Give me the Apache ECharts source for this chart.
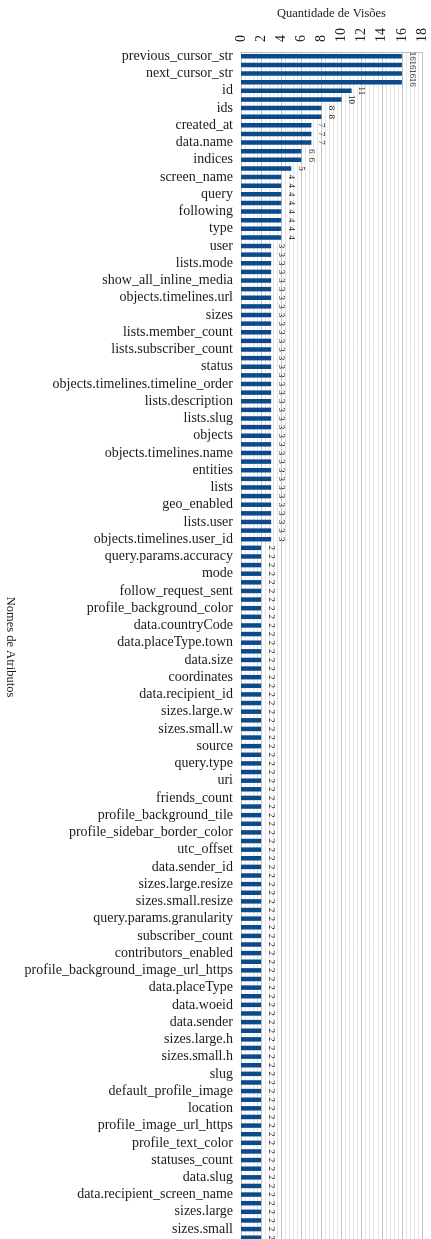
<!DOCTYPE html>
<html>
<head>
<meta charset="utf-8">
<script src="https://cdn.jsdelivr.net/npm/echarts@6/dist/echarts.min.js"></script>
<style>
  html, body { margin: 0; padding: 0; background: #fff; overflow: hidden; }
  #chart { width: 431px; height: 1250px; }
</style>
</head>
<body>
<div id="chart"></div>
<script>
// Attribute names shown on the axis (every other bar carries a name)
const attributeNames = [
  'previous_cursor_str', 'next_cursor_str', 'id', 'ids', 'created_at', 'data.name',
  'indices', 'screen_name', 'query', 'following', 'type', 'user', 'lists.mode',
  'show_all_inline_media', 'objects.timelines.url', 'sizes', 'lists.member_count',
  'lists.subscriber_count', 'status', 'objects.timelines.timeline_order',
  'lists.description', 'lists.slug', 'objects', 'objects.timelines.name', 'entities',
  'lists', 'geo_enabled', 'lists.user', 'objects.timelines.user_id',
  'query.params.accuracy', 'mode', 'follow_request_sent', 'profile_background_color',
  'data.countryCode', 'data.placeType.town', 'data.size', 'coordinates',
  'data.recipient_id', 'sizes.large.w', 'sizes.small.w', 'source', 'query.type', 'uri',
  'friends_count', 'profile_background_tile', 'profile_sidebar_border_color',
  'utc_offset', 'data.sender_id', 'sizes.large.resize', 'sizes.small.resize',
  'query.params.granularity', 'subscriber_count', 'contributors_enabled',
  'profile_background_image_url_https', 'data.placeType', 'data.woeid', 'data.sender',
  'sizes.large.h', 'sizes.small.h', 'slug', 'default_profile_image', 'location',
  'profile_image_url_https', 'profile_text_color', 'statuses_count', 'data.slug',
  'data.recipient_screen_name', 'sizes.large', 'sizes.small'
];

// View counts, one per bar, top to bottom
const viewCounts = [
  16, 16, 16, 16, 11, 10, 8, 8, 7, 7,
  7, 6, 6, 5, 4, 4, 4, 4, 4, 4,
  4, 4, 3, 3, 3, 3, 3, 3, 3, 3,
  3, 3, 3, 3, 3, 3, 3, 3, 3, 3,
  3, 3, 3, 3, 3, 3, 3, 3, 3, 3,
  3, 3, 3, 3, 3, 3, 3, 2, 2, 2,
  2, 2, 2, 2, 2, 2, 2, 2, 2, 2,
  2, 2, 2, 2, 2, 2, 2, 2, 2, 2,
  2, 2, 2, 2, 2, 2, 2, 2, 2, 2,
  2, 2, 2, 2, 2, 2, 2, 2, 2, 2,
  2, 2, 2, 2, 2, 2, 2, 2, 2, 2,
  2, 2, 2, 2, 2, 2, 2, 2, 2, 2,
  2, 2, 2, 2, 2, 2, 2, 2, 2, 2,
  2, 2, 2, 2, 2, 2, 2, 2
];

// Value axis ticks
const tickValues = [0, 2, 4, 6, 8, 10, 12, 14, 16, 18];

// Each named bar is followed by an unnamed one
const categories = [];
attributeNames.forEach(function (name) {
  categories.push(name);
  categories.push('');
});

const FONT = 'Liberation Serif';
const chart = echarts.init(document.getElementById('chart'), null, { renderer: 'canvas' });

chart.setOption({
  animation: false,
  backgroundColor: '#ffffff',
  grid: { left: 241, top: 52, width: 181, height: 1190, containLabel: false },
  xAxis: {
    type: 'value',
    position: 'top',
    min: tickValues[0],
    max: tickValues[tickValues.length - 1],
    interval: 2,
    name: 'Quantidade de Visões',
    nameLocation: 'middle',
    nameGap: 32,
    nameTextStyle: { fontFamily: FONT, fontSize: 12.5, color: '#1a1a1a' },
    axisLine: { show: true, lineStyle: { color: '#bdbdbd' } },
    axisTick: { show: false },
    axisLabel: {
      rotate: -90,
      margin: 10,
      fontFamily: FONT,
      fontSize: 14,
      color: '#1a1a1a'
    },
    splitLine: { show: true, lineStyle: { color: '#c4c4c4', width: 1 } },
    minorTick: { show: false, splitNumber: 5 },
    minorSplitLine: { show: true, lineStyle: { color: '#e6e6e6', width: 1 } }
  },
  yAxis: {
    type: 'category',
    inverse: true,
    data: categories,
    name: 'Nomes de Atributos',
    nameLocation: 'middle',
    nameRotate: -90,
    nameGap: 224,
    nameTextStyle: { fontFamily: FONT, fontSize: 12.5, color: '#1a1a1a' },
    axisLine: { show: true, lineStyle: { color: '#bdbdbd' } },
    axisTick: { show: false },
    axisLabel: {
      interval: 0,
      margin: 8,
      fontFamily: FONT,
      fontSize: 14,
      color: '#1a1a1a'
    },
    splitLine: { show: false }
  },
  series: [{
    type: 'bar',
    data: viewCounts,
    barWidth: '52%',
    itemStyle: { color: '#0b4b8c' },
    label: {
      show: true,
      position: 'right',
      rotate: -90,
      align: 'center',
      verticalAlign: 'middle',
      distance: 10,
      fontFamily: FONT,
      fontSize: 9,
      color: '#1a1a1a'
    }
  }]
});
</script>
</body>
</html>
